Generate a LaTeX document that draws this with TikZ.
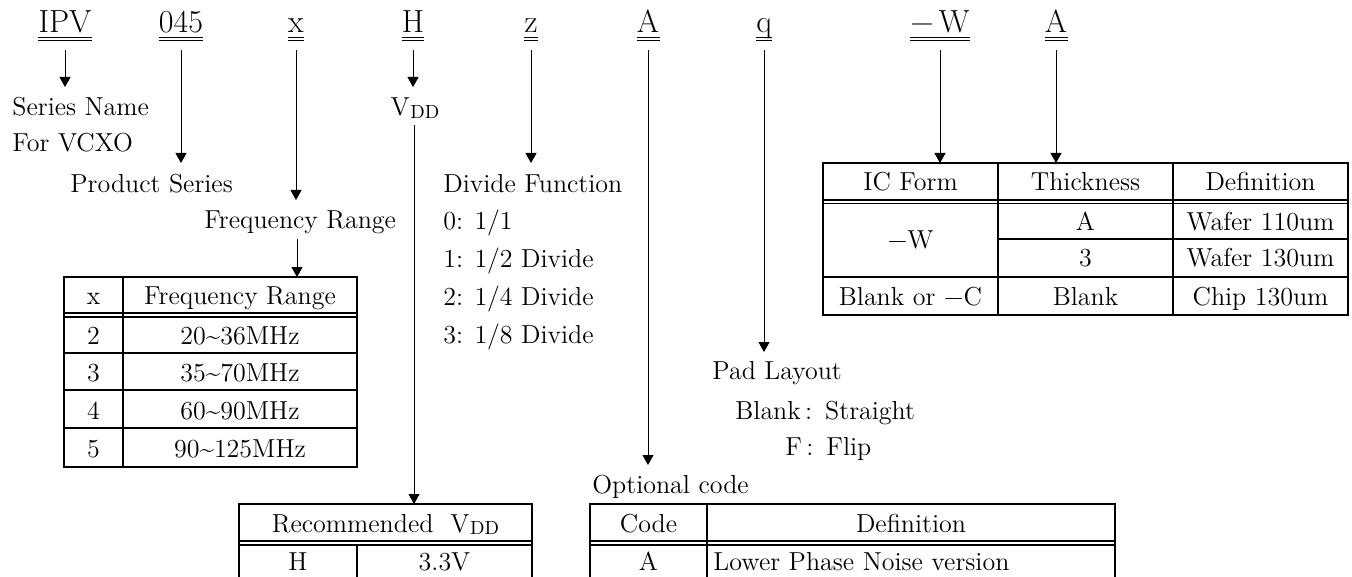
\documentclass[tikz,border=0pt]{standalone}
\usepackage{fontspec}
\usetikzlibrary{arrows.meta,calc}
\newcommand{\vddtext}{V\kern0.3pt\raisebox{-0.2ex}{\fontsize{9.5}{10}\selectfont DD}}
\newcommand{\dul}[1]{%
  \draw[ul] ([yshift=-2.2pt]#1.base west) -- ([yshift=-2.2pt]#1.base east);
  \draw[ul] ([yshift=-3.9pt]#1.base west) -- ([yshift=-3.9pt]#1.base east);}
\tikzset{
  lbl/.style={font=\fontsize{16}{19}\selectfont, inner sep=0pt, anchor=base},
  txt/.style={font=\fontsize{13}{15}\selectfont, inner sep=0pt, anchor=base west},
  cell/.style={font=\fontsize{13}{15}\selectfont, inner sep=0pt, anchor=base},
  arr/.style={-{Triangle[length=5pt,width=5.5pt]}, line width=0.5pt},
  plainline/.style={line width=0.5pt},
  tl/.style={line width=1pt},
  dl/.style={line width=0.65pt},
  ul/.style={line width=0.7pt},
}
\begin{document}
\begin{tikzpicture}[x=0.5pt,y=-0.5pt]
\useasboundingbox (0,0) rectangle (1352,577);

% ---------- top code labels ----------
\node[lbl] (ipv) at (65,33) {IPV};
\node[lbl] (n045) at (181,33) {045};
\node[lbl] (nx) at (296,33) {x};
\node[lbl] (nh) at (413,33) {H};
\node[lbl] (nz) at (531,33) {z};
\node[lbl] (na) at (648,33) {A};
\node[lbl] (nq) at (764,33) {q};
\node[lbl] (nw) at (940,33) {−\,W};
\node[lbl] (na2) at (1056,33) {A};
\dul{ipv}\dul{n045}\dul{nx}\dul{nh}\dul{nz}\dul{na}\dul{nq}\dul{nw}\dul{na2}

% ---------- texts ----------
\node[txt] (sn) at (12,116) {Series Name};
\node[txt] (vcxo) at (12,152) {For VCXO};
\node[txt] (ps) at (70,192) {Product Series};
\node[txt] (fr) at (204,228) {Frequency Range};
\node[cell] (vdd) at (415,116) {\vddtext};
\node[txt] (df) at (443,192) {Divide Function};
\node[txt] (d0) at (443,229) {0: 1/1};
\node[txt] (d1) at (443,267) {1: 1/2 Divide};
\node[txt] (d2) at (443,305) {2: 1/4 Divide};
\node[txt] (d3) at (443,343) {3: 1/8 Divide};
\node[txt] (pl) at (712,379) {Pad Layout};
\node[txt] (pls) at (735,419) {Blank\,:\enspace Straight};
\node[txt] (plf) at (785,455) {F\,:\enspace Flip};
\node[txt] (oc) at (592,493) {Optional code};

% arrow tips
\coordinate (tipSN) at (65,87);
\coordinate (tipPS) at (181,163);
\coordinate (tipFR) at (296,200);
\coordinate (tipVDD) at (413,87);
\coordinate (tipDF) at (531,163);
\coordinate (tipOC) at (648,465);
\coordinate (tipPL) at (764,352);
\coordinate (tipW) at (940,163);
\coordinate (tipA2) at (1056,163);
\coordinate (frTab) at (297,277);
\coordinate (vddTab) at (414,504);

\draw[arr] ([yshift=-8.5pt]ipv.base) -- (tipSN);
\draw[arr] ([yshift=-8.5pt]n045.base) -- (tipPS);
\draw[arr] ([yshift=-8.5pt]nx.base) -- (tipFR);
\draw[arr] ([yshift=-8.5pt]nh.base) -- (tipVDD);
\draw[arr] ([yshift=-8.5pt]nz.base) -- (tipDF);
\draw[arr] ([yshift=-8.5pt]na.base) -- (tipOC);
\draw[arr] ([yshift=-8.5pt]nq.base) -- (tipPL);
\draw[arr] ([yshift=-8.5pt]nw.base) -- (tipW);
\draw[arr] ([yshift=-8.5pt]na2.base) -- (tipA2);
\draw[arr] (297,239) -- (frTab);
\draw[arr] (414,125) -- (vddTab);

% ---------- frequency table ----------
\draw[tl] (64,277) rectangle (357,467);
\draw[tl] (123,277) -- (123,467);
\draw[dl] (64,313) -- (357,313);
\draw[dl] (64,317) -- (357,317);
\draw[tl] (64,353) -- (357,353);
\draw[tl] (64,390) -- (357,390);
\draw[tl] (64,428) -- (357,428);
\node[cell] (fth1) at (93.5,304.5) {x};
\node[cell] (fth2) at (240,304.5) {Frequency Range};
\node[cell] (ft21) at (93.5,344) {2};
\node[cell] (ft22) at (240,344) {20\textasciitilde36MHz};
\node[cell] (ft31) at (93.5,381) {3};
\node[cell] (ft32) at (240,381) {35\textasciitilde70MHz};
\node[cell] (ft41) at (93.5,419) {4};
\node[cell] (ft42) at (240,419) {60\textasciitilde90MHz};
\node[cell] (ft51) at (93.5,457) {5};
\node[cell] (ft52) at (240,457) {90\textasciitilde125MHz};

% ---------- recommended VDD table ----------
\draw[tl] (239,582) -- (239,504) -- (532,504) -- (532,582);
\draw[dl] (239,541) -- (532,541);
\draw[dl] (239,545) -- (532,545);
\draw[tl] (357,545) -- (357,582);
\node[cell] (rvh) at (385.5,532) {Recommended\ \ \vddtext};
\node[cell] (rv1) at (298,570) {H};
\node[cell] (rv2) at (444.5,570) {3.3V};

% ---------- optional code table ----------
\draw[tl] (590,582) -- (590,504) -- (1115,504) -- (1115,582);
\draw[dl] (590,541) -- (1115,541);
\draw[dl] (590,545) -- (1115,545);
\draw[tl] (707,504) -- (707,582);
\node[cell] (och1) at (648.5,532) {Code};
\node[cell] (och2) at (911,532) {Definition};
\node[cell] (oc1) at (648.5,570) {A};
\node[txt] (oc2) at (713,570) {Lower Phase Noise version};

% ---------- IC form table ----------
\draw[tl] (823,163) rectangle (1348,315);
\draw[tl] (998,163) -- (998,315);
\draw[tl] (1173,163) -- (1173,315);
\draw[dl] (823,200) -- (1348,200);
\draw[dl] (823,203.5) -- (1348,203.5);
\draw[tl] (998,239) -- (1348,239);
\draw[tl] (823,277) -- (1348,277);
\node[cell] (ich1) at (910.5,190.5) {IC Form};
\node[cell] (ich2) at (1085.5,190.5) {Thickness};
\node[cell] (ich3) at (1260.5,190.5) {Definition};
\node[cell] (icw) at (910.5,248.5) {−W};
\node[cell] (ica) at (1085.5,230) {A};
\node[cell] (ica2) at (1260.5,230) {Wafer 110um};
\node[cell] (ic3) at (1085.5,266.5) {3};
\node[cell] (ic32) at (1260.5,266.5) {Wafer 130um};
\node[cell] (icb) at (910.5,305) {Blank or −C};
\node[cell] (icb2) at (1085.5,305) {Blank};
\node[cell] (icb3) at (1260.5,305) {Chip 130um};
\end{tikzpicture}
\end{document}
